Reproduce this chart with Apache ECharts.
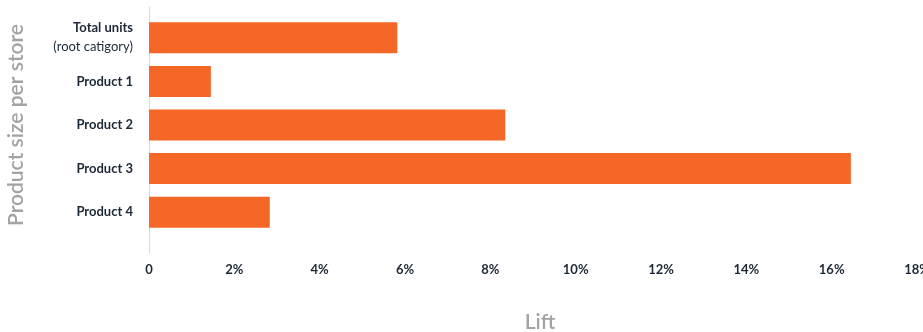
<!DOCTYPE html>
<html>
<head>
<meta charset="utf-8">
<script src="https://cdn.jsdelivr.net/npm/echarts@6/dist/echarts.min.js"></script>
<style>
  html, body { margin: 0; padding: 0; background: #fff; }
  #chart { width: 923px; height: 332px; }
</style>
</head>
<body>
<div id="chart"></div>
<script>
// categories top to bottom
var categories = ['Total units', 'Product 1', 'Product 2', 'Product 3', 'Product 4'];
// lift in percent
var liftValues = [5.82, 1.45, 8.35, 16.45, 2.83];
var xTicks = [0, 2, 4, 6, 8, 10, 12, 14, 16, 18];

var chart = echarts.init(document.getElementById('chart'));
var font = 'Lato, "Noto Sans", sans-serif';
var dark = '#1c2836';

chart.setOption({
  animation: false,
  textStyle: { fontFamily: font },
  grid: [
    { left: 149, right: 6, top: 16, bottom: 98, outerBoundsMode: 'none' },
    // only used to draw the longer vertical axis line
    { left: 149, right: 6, top: 7, bottom: 79, outerBoundsMode: 'none' }
  ],
  xAxis: [{
    type: 'value',
    gridIndex: 0,
    min: xTicks[0],
    max: xTicks[xTicks.length - 1],
    interval: 2,
    name: 'Lift',
    nameLocation: 'middle',
    nameGap: 78,
    nameTextStyle: { color: '#a3a3a3', fontSize: 21, fontWeight: 600, fontFamily: font, padding: [0, 0, 0, 14] },
    axisLine: { show: false },
    axisTick: { show: false },
    splitLine: { show: false },
    axisLabel: {
      margin: 29,
      color: dark,
      fontSize: 13,
      fontWeight: 'bold',
      fontFamily: font,
      formatter: function (v) { return v === 0 ? '0' : v + '%'; }
    }
  }, {
    type: 'value',
    gridIndex: 1,
    show: false
  }],
  yAxis: [{
    type: 'category',
    gridIndex: 0,
    inverse: true,
    data: categories,
    name: 'Product size per store',
    nameLocation: 'middle',
    nameGap: 122,
    nameRotate: 90,
    nameTextStyle: { color: '#a3a3a3', fontSize: 21, fontWeight: 600, fontFamily: font },
    axisLine: { show: false },
    axisTick: { show: false },
    axisLabel: {
      margin: 16,
      color: dark,
      fontSize: 13,
      fontWeight: 'bold',
      fontFamily: font,
      formatter: function (v) {
        if (v === 'Total units') return '{b|Total units}\n{n|(root catigory)}';
        return v;
      },
      rich: {
        b: { fontWeight: 'bold', fontSize: 13, color: dark, fontFamily: font, lineHeight: 19, align: 'right' },
        n: { fontWeight: 'normal', fontSize: 13, color: dark, fontFamily: font, lineHeight: 19, align: 'right' }
      }
    }
  }, {
    type: 'category',
    gridIndex: 1,
    data: [''],
    axisLine: { show: true, lineStyle: { color: '#dcdcdc', width: 1 } },
    axisTick: { show: false },
    axisLabel: { show: false }
  }],
  series: [{
    type: 'bar',
    xAxisIndex: 0,
    yAxisIndex: 0,
    data: liftValues,
    barCategoryGap: '29%',
    itemStyle: { color: '#F46726' }
  }]
});
</script>
</body>
</html>
